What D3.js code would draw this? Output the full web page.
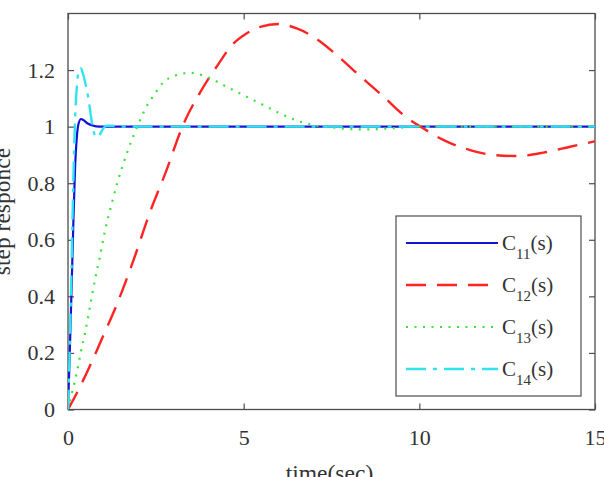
<!DOCTYPE html>
<html>
<head>
<meta charset="utf-8">
<script src="https://cdn.jsdelivr.net/npm/d3@7"></script>
<style>
  body { margin: 0; background: #fff; }
  svg { display: block; }
  svg text { font-family: "Liberation Serif", "Times New Roman", serif; }
</style>
</head>
<body>
<div id="chart"></div>
<script>
// data: [time, response]
const c11 = [[0,0],[0.05,0.2],[0.1,0.42],[0.15,0.65],[0.2,0.85],[0.25,0.96],[0.3,1.01],[0.37,1.027],[0.45,1.022],[0.55,1.012],[0.7,1.004],[0.9,1.0],[15,1.0]];
const c12 = [[0,0],[0.3,0.07],[0.7,0.175],[1.0,0.26],[1.34,0.356],[1.87,0.53],[2.34,0.70],[2.77,0.835],[3.29,1.01],[3.77,1.123],[4.29,1.223],[4.63,1.283],[5.09,1.33],[5.47,1.353],[5.99,1.363],[6.51,1.347],[6.98,1.318],[7.65,1.253],[8.12,1.2],[8.98,1.106],[9.55,1.041],[10.11,0.994],[10.68,0.953],[11.44,0.917],[12.11,0.9],[12.77,0.896],[13.53,0.908],[14.29,0.929],[15,0.948]];
const c13 = [[0,0],[0.13,0.067],[0.25,0.13],[0.36,0.2],[0.5,0.28],[0.65,0.38],[0.77,0.46],[0.9,0.535],[1.05,0.63],[1.25,0.73],[1.4,0.8],[1.55,0.86],[1.7,0.915],[1.87,0.97],[2.06,1.025],[2.25,1.075],[2.44,1.11],[2.72,1.158],[3.0,1.178],[3.47,1.19],[3.99,1.174],[4.42,1.147],[4.9,1.117],[5.47,1.082],[6.03,1.047],[6.5,1.022],[7.0,1.005],[7.6,0.996],[8.4,0.99],[9.2,0.994],[10,1.0],[15,1.0]];
const c14 = [[0,0],[0.05,0.22],[0.1,0.5],[0.15,0.8],[0.2,1.02],[0.25,1.14],[0.3,1.195],[0.36,1.207],[0.42,1.19],[0.5,1.15],[0.58,1.1],[0.65,1.04],[0.7,1.0],[0.77,0.968],[0.84,0.962],[0.92,0.975],[1.0,0.993],[1.1,1.003],[1.25,1.003],[1.5,1.0],[15,1.0]];

const seriesNames = ["11", "12", "13", "14"];
const xTicks = [0, 5, 10, 15];
const yTicks = [0, 0.2, 0.4, 0.6, 0.8, 1, 1.2];

// set the dimensions and margins of the graph
const margin = {top: 13.5, right: 9, bottom: 67.5, left: 68},
    width = 604 - margin.left - margin.right,
    height = 477 - margin.top - margin.bottom;

const svg = d3.select("#chart")
  .append("svg")
    .attr("width", 604)
    .attr("height", 477)
    .attr("font-family", "Liberation Serif")
  .append("g")
    .attr("transform", `translate(${margin.left}, ${margin.top})`);

const x = d3.scaleLinear().domain([0, 15]).range([0, width]);
const y = d3.scaleLinear().domain([0, 1.4]).range([height, 0]);

svg.append("clipPath").attr("id", "clip")
  .append("rect").attr("width", width).attr("height", height);

const axisColor = "#4d4d4d";

// axes with inward ticks on all four sides
function styleAxis(g) {
  g.attr("font-family", null).attr("font-size", null);
  g.select(".domain").remove();
  g.selectAll(".tick line").attr("stroke", axisColor).attr("stroke-width", 1.2);
  g.selectAll("text")
    .style("font-size", "22px")
    .attr("fill", "#333");
}

svg.append("g")
  .attr("transform", `translate(0, ${height})`)
  .call(d3.axisBottom(x).tickValues(xTicks).tickSize(-6).tickPadding(20).tickFormat(d3.format("d")))
  .call(styleAxis);

svg.append("g")
  .call(d3.axisTop(x).tickValues(xTicks).tickSize(-6).tickFormat(""))
  .call(styleAxis);

svg.append("g")
  .call(d3.axisLeft(y).tickValues(yTicks).tickSize(-6).tickPadding(13).tickFormat(d => d3.format("~g")(d)))
  .call(styleAxis);

svg.append("g")
  .attr("transform", `translate(${width}, 0)`)
  .call(d3.axisRight(y).tickValues(yTicks).tickSize(-6).tickFormat(""))
  .call(styleAxis);

svg.append("rect")
  .attr("width", width)
  .attr("height", height)
  .attr("fill", "none")
  .attr("stroke", axisColor)
  .attr("stroke-width", 1.3);

// curves
const line = d3.line()
  .x(d => x(d[0]))
  .y(d => y(d[1]))
  .curve(d3.curveMonotoneX);

const styles = [
  {data: c11, color: "#1414d8", width: 2.2, dash: null},
  {data: c12, color: "#ff2424", width: 2.4, dash: "20,11"},
  {data: c13, color: "#3ae23a", width: 2.2, dash: "2,6.5"},
  {data: c14, color: "#2fe4f0", width: 2.4, dash: "20,7,4,7"}
];

svg.append("g")
  .attr("clip-path", "url(#clip)")
  .selectAll("path")
  .data(styles)
  .join("path")
    .attr("d", d => line(d.data))
    .attr("fill", "none")
    .attr("stroke", d => d.color)
    .attr("stroke-width", d => d.width)
    .attr("stroke-dasharray", d => d.dash);

// axis titles
svg.append("text")
  .attr("x", x(7.5) - 2)
  .attr("y", height + 71)
  .attr("text-anchor", "middle")
  .style("font-size", "23.5px")
  .attr("fill", "#333")
  .text("time(sec)");

svg.append("text")
  .attr("transform", `translate(${10 - margin.left}, ${height / 2}) rotate(-90)`)
  .attr("text-anchor", "middle")
  .style("font-size", "23.5px")
  .attr("fill", "#333")
  .text("step responce");

// legend
const legend = svg.append("g")
  .attr("transform", `translate(${396 - margin.left}, ${216 - margin.top})`);

legend.append("rect")
  .attr("width", 185)
  .attr("height", 180)
  .attr("fill", "#fff")
  .attr("stroke", axisColor)
  .attr("stroke-width", 1.2);

const item = legend.selectAll("g.item")
  .data(styles)
  .join("g")
    .attr("class", "item")
    .attr("transform", (d, i) => `translate(0, ${27 + i * 42})`);

item.append("line")
  .attr("x1", 10)
  .attr("x2", 102)
  .attr("stroke", d => d.color)
  .attr("stroke-width", d => d.width)
  .attr("stroke-dasharray", d => d.dash);

const label = item.append("text")
  .attr("x", 106)
  .attr("y", 7)
  .style("font-size", "21px")
  .attr("fill", "#333");

label.append("tspan").text("C");
label.append("tspan")
  .attr("dy", 9)
  .style("font-size", "15px")
  .text((d, i) => seriesNames[i]);
label.append("tspan")
  .attr("dy", -9)
  .text("(s)");
</script>
</body>
</html>
